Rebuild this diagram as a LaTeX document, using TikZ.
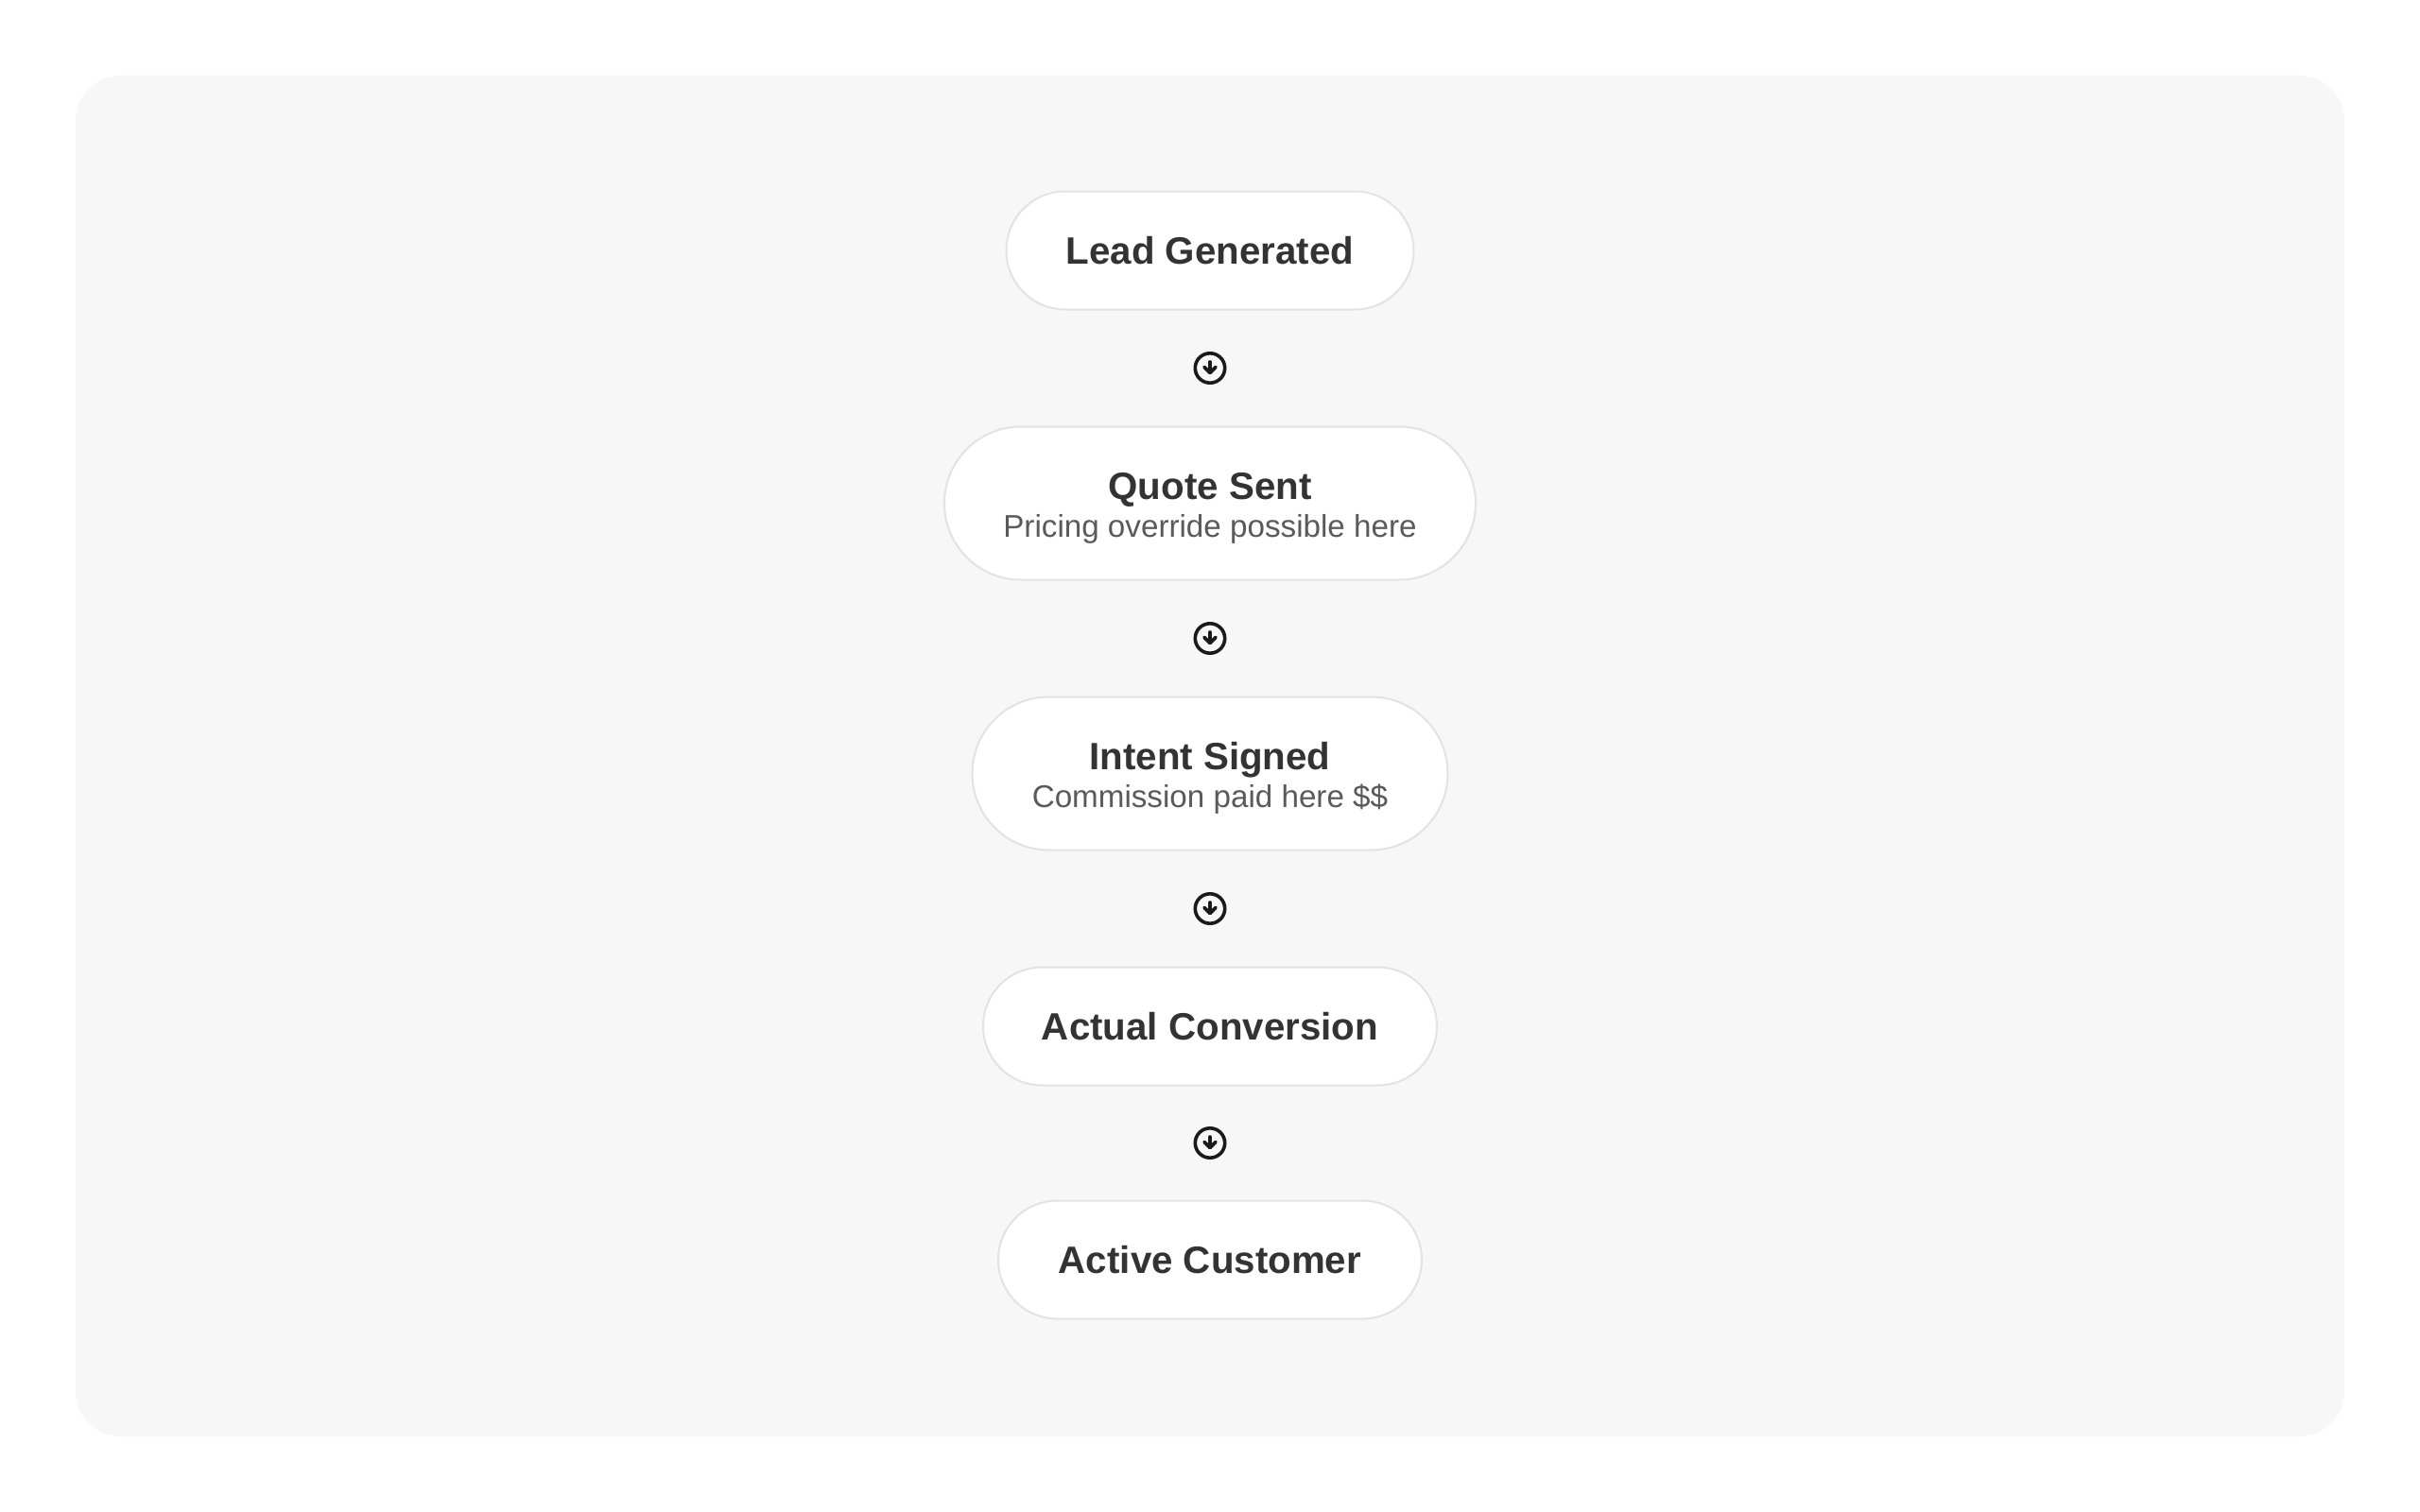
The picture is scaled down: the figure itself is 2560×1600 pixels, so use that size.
\documentclass[tikz,border=0pt]{standalone}
\usepackage{fontspec}
\setmainfont{Liberation Sans}
\usetikzlibrary{calc}
\definecolor{panelbg}{HTML}{F7F7F7}
\definecolor{pillborder}{HTML}{E3E3E3}
\definecolor{titlecol}{HTML}{333333}
\definecolor{subcol}{HTML}{5A5A5A}
\definecolor{iconcol}{HTML}{1A1A1A}
\tikzset{
  pill/.style={draw=pillborder, line width=2pt, fill=white, rectangle, inner sep=0pt},
  onepill/.style={pill, minimum height=125pt, rounded corners=62.4pt},
  twopill/.style={pill, minimum height=162pt, rounded corners=80.9pt},
  ttl/.style={font=\fontsize{40.3}{48}\selectfont\bfseries, text=titlecol, inner sep=0pt, anchor=base},
  sub/.style={font=\fontsize{33.2}{40}\selectfont, text=subcol, inner sep=0pt, anchor=base},
  icon/.style={draw=iconcol, line width=3.6pt, line cap=round, line join=round}
}
\newcommand{\downicon}[1]{%
  \draw[icon] (#1) circle[radius=15.7pt];
  \draw[icon] ($(#1)+(0,-6.5)$) -- ($(#1)+(0,4.5)$);
  \draw[icon] ($(#1)+(-6,-1)$) -- ($(#1)+(0,5)$) -- ($(#1)+(6,-1)$);
}
\begin{document}
\begin{tikzpicture}[x=1pt,y=-1pt]
\useasboundingbox (0,0) rectangle (2560,1600);
\fill[white] (0,0) rectangle (2560,1600);
\fill[panelbg, rounded corners=48pt] (80,80) rectangle (2480,1520);

% stages
\node[onepill, minimum width=431pt] (lead) at (1280,265) {};
\node[ttl] (leadt) at ([yshift=-14.5pt]lead.center) {Lead Generated};

\node[twopill, minimum width=562pt] (quote) at (1280,532.5) {};
\node[ttl] (quotet) at ([yshift=4.5pt]quote.center) {Quote Sent};
\node[sub] (quotes) at ([yshift=-35.5pt]quote.center) {Pricing override possible here};

\node[twopill, minimum width=503pt] (intent) at (1280,818.5) {};
\node[ttl] (intentt) at ([yshift=4.5pt]intent.center) {Intent Signed};
\node[sub] (intents) at ([yshift=-35.5pt]intent.center) {Commission paid here \$\$};

\node[onepill, minimum width=480pt] (actual) at (1280,1086) {};
\node[ttl] (actualt) at ([yshift=-14.5pt]actual.center) {Actual Conversion};

\node[onepill, minimum width=448pt] (active) at (1280,1333) {};
\node[ttl] (activet) at ([yshift=-14.5pt]active.center) {Active Customer};

% down-arrow icons between stages
\coordinate (a1) at ($(lead.south)!0.5!(quote.north)$);
\coordinate (a2) at ($(quote.south)!0.5!(intent.north)$);
\coordinate (a3) at ($(intent.south)!0.5!(actual.north)$);
\coordinate (a4) at ($(actual.south)!0.5!(active.north)$);
\downicon{a1}
\downicon{a2}
\downicon{a3}
\downicon{a4}
\end{tikzpicture}
\end{document}
